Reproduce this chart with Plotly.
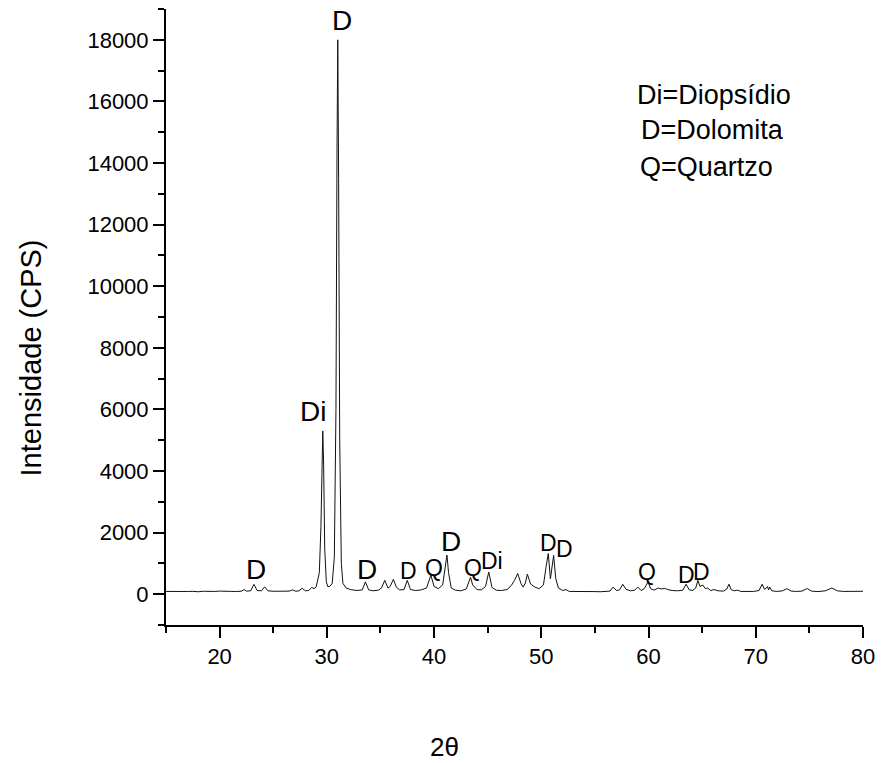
import plotly.graph_objects as go

# ---- data ----
two_theta = [
    15.0, 15.5, 16.0, 16.5, 17.0, 17.5, 18.0, 18.5, 19.0, 19.5, 20.0, 20.5, 21.0, 21.5, 22.0,
    22.3, 22.5, 22.9, 23.2, 23.5, 23.9, 24.2, 24.5, 25.0, 25.5, 26.0, 26.5, 26.8, 27.1, 27.4,
    27.7, 28.0, 28.3, 28.6, 28.8, 29.0, 29.3, 29.45, 29.55, 29.62, 29.7, 29.8, 29.95, 30.1,
    30.3, 30.5, 30.7, 30.85, 30.95, 31.02, 31.1, 31.2, 31.35, 31.5, 31.8, 32.2, 32.8, 33.3,
    33.6, 33.9, 34.3, 34.8, 35.1, 35.4, 35.7, 35.9, 36.2, 36.5, 36.8, 37.2, 37.5, 37.8, 38.3,
    38.8, 39.3, 39.7, 40.0, 40.4, 40.8, 41.05, 41.2, 41.35, 41.6, 42.0, 42.5, 43.0, 43.4, 43.6,
    43.8, 44.0, 44.4, 44.8, 45.1, 45.4, 45.8, 46.3, 46.8, 47.2, 47.5, 47.8, 48.1, 48.3, 48.5,
    48.7, 49.0, 49.4, 49.8, 50.2, 50.45, 50.65, 50.85, 51.0, 51.15, 51.35, 51.6, 52.0, 52.3,
    52.6, 53.0, 53.5, 54.0, 54.5, 55.0, 55.5, 56.0, 56.4, 56.7, 57.0, 57.3, 57.6, 57.9, 58.3,
    58.7, 59.0, 59.3, 59.6, 59.95, 60.2, 60.5, 60.9, 61.2, 61.5, 61.8, 62.2, 62.7, 63.2, 63.5,
    63.8, 64.1, 64.4, 64.6, 64.8, 65.05, 65.3, 65.5, 65.8, 66.1, 66.5, 67.0, 67.3, 67.5, 67.7,
    68.0, 68.3, 68.6, 69.2, 69.8, 70.3, 70.6, 70.8, 71.0, 71.1, 71.2, 71.3, 71.5, 72.0, 72.5,
    72.9, 73.3, 73.8, 74.3, 74.8, 75.2, 75.8, 76.5, 77.1, 77.6, 78.2, 79.0, 79.5, 80.0,
]
intensity = [
    90, 85, 95, 80, 88, 92, 80, 95, 85, 90, 100, 85, 92, 88, 95,
    150, 100, 110, 320, 120, 110, 240, 110, 95, 90, 95, 100, 140, 95, 110,
    190, 110, 120, 220, 180, 230, 700, 2200, 4600, 5300, 4200, 1500, 400, 240,
    260, 350, 1200, 6000, 14500, 18000, 13500, 5000, 1000, 350, 200, 150, 120, 140,
    400, 140, 110, 130, 200, 450, 200, 250, 480, 220, 140, 150, 450, 150, 120,
    140, 200, 620, 250, 180, 300, 900, 1270, 700, 200, 130, 110, 170, 550, 300,
    230, 150, 140, 250, 720, 220, 130, 120, 150, 280, 450, 670, 350, 230, 350,
    650, 330, 230, 180, 300, 900, 1320, 500, 900, 1260, 500, 200, 120, 150,
    90, 85, 80, 85, 80, 85, 80, 85, 100, 230, 120, 140, 320, 160, 110,
    130, 230, 120, 180, 400, 180, 130, 200, 170, 190, 150, 120, 110, 130, 325,
    140, 120, 200, 450, 250, 300, 180, 200, 120, 150, 110, 100, 170, 325, 150,
    110, 130, 90, 85, 90, 120, 325, 160, 200, 250, 140, 230, 110, 90, 110,
    180, 100, 90, 100, 185, 100, 85, 110, 200, 110, 90, 85, 90, 95,
]

peak_labels = ["D", "Di", "D", "D", "D",
               "D", "Q", "Q", "Di", "D", "D", "Q", "D", "D"]
label_theta = [23.36, 28.74, 31.43, 33.76, 41.55,
               37.65, 39.98, 43.6, 45.36, 50.65, 52.14, 59.85, 63.56, 64.95]
label_height = [812, 5940, 18640, 812, 1720,
                750, 845, 845, 1070, 1655, 1460, 714, 617, 714]
label_big = [True, True, True, True, True,
             False, False, False, False, False, False, False, False, False]

legend_lines = ["Di=Diopsídio", "D=Dolomita", "Q=Quartzo"]

x_ticks = [20, 30, 40, 50, 60, 70, 80]
y_ticks = [0, 2000, 4000, 6000, 8000, 10000, 12000, 14000, 16000, 18000]

FONT = "Arial, 'Liberation Sans', sans-serif"

fig = go.Figure()
fig.add_trace(go.Scatter(
    x=two_theta, y=intensity, mode="lines",
    line=dict(color="#111111", width=1),
    showlegend=False, hoverinfo="skip",
))

annotations = []
for t, xv, yv, big in zip(peak_labels, label_theta, label_height, label_big):
    annotations.append(dict(
        x=xv, y=yv, xref="x", yref="y", text=t, showarrow=False,
        xanchor="center", yanchor="middle",
        font=dict(family=FONT, size=28 if big else 23, color="black"),
    ))

legend_x = [0.673, 0.679, 0.677]
legend_y = [0.860, 0.804, 0.744]
for t, xv, yv in zip(legend_lines, legend_x, legend_y):
    annotations.append(dict(
        x=xv, y=yv, xref="paper", yref="paper", text=t, showarrow=False,
        xanchor="left", yanchor="middle",
        font=dict(family=FONT, size=27, color="black"),
    ))

annotations.append(dict(
    x=0.399, y=-0.198, xref="paper", yref="paper", text="2θ", showarrow=False,
    xanchor="center", yanchor="middle",
    font=dict(family=FONT, size=26, color="black"),
))
annotations.append(dict(
    x=-0.194, y=0.434, xref="paper", yref="paper", text="Intensidade (CPS)",
    showarrow=False, textangle=-90, xanchor="center", yanchor="middle",
    font=dict(family=FONT, size=29, color="black"),
))

axis_common = dict(
    showline=True, linecolor="black", linewidth=2,
    ticks="outside", ticklen=11, tickwidth=2, tickcolor="black",
    showgrid=False, zeroline=False,
    tickfont=dict(family=FONT, size=22, color="black"),
)

fig.update_layout(
    width=884, height=763,
    margin=dict(l=166, r=18, t=9, b=138),
    paper_bgcolor="white", plot_bgcolor="white",
    xaxis=dict(range=[15, 80], tickvals=x_ticks, ticktext=[str(v) for v in x_ticks],
               minor=dict(dtick=5, tick0=15, ticks="outside", ticklen=6, tickwidth=2,
                          tickcolor="black", showgrid=False),
               **axis_common),
    yaxis=dict(range=[-1000, 19000], tickvals=y_ticks, ticktext=[str(v) for v in y_ticks],
               minor=dict(dtick=1000, tick0=-1000, ticks="outside", ticklen=6, tickwidth=2,
                          tickcolor="black", showgrid=False),
               **axis_common),
    annotations=annotations,
)

fig.write_html("out.html")
